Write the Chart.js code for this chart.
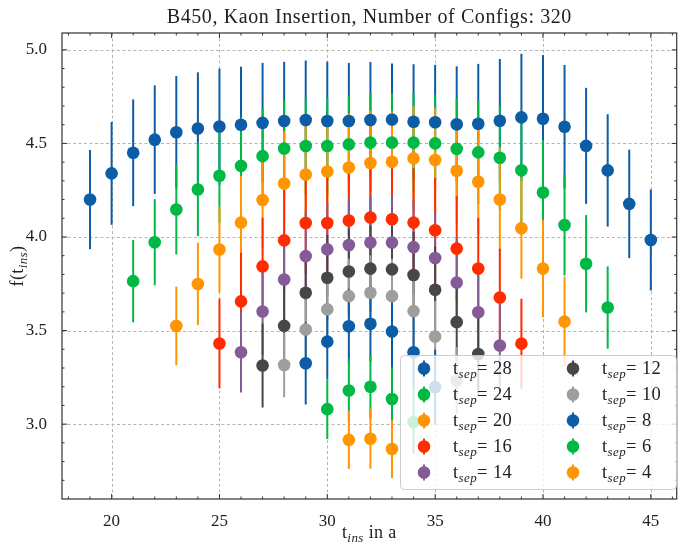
<!DOCTYPE html>
<html>
<head>
<meta charset="utf-8">
<script src="https://cdn.jsdelivr.net/npm/chart.js@4.4.1/dist/chart.umd.min.js"></script>
<style>
  html, body { margin: 0; padding: 0; background: #fff; }
  #wrap { width: 683px; height: 544px; }
</style>
</head>
<body>
<div id="wrap"><canvas id="chart" width="683" height="544"></canvas></div>
<script>
// t_sep of each series, first t_ins of each series
const tSep = [28, 24, 20, 16, 14, 12, 10, 8, 6, 4];
const tStart = [19, 21, 23, 25, 26, 27, 28, 29, 30, 31];
const colors = ['#0C5DA5', '#00B945', '#FF9500', '#FF2C00', '#845B97', '#474747', '#9e9e9e', '#0C5DA5', '#00B945', '#FF9500'];

// values
const f28 = [4.20, 4.34, 4.45, 4.52, 4.56, 4.58, 4.59, 4.60, 4.61, 4.62, 4.625, 4.62, 4.62, 4.625, 4.627, 4.616, 4.613, 4.602, 4.605, 4.621, 4.639, 4.632, 4.589, 4.487, 4.356, 4.177, 3.984];
const e28 = [0.265, 0.275, 0.285, 0.29, 0.30, 0.30, 0.31, 0.31, 0.32, 0.316, 0.318, 0.317, 0.31, 0.31, 0.30, 0.307, 0.307, 0.31, 0.32, 0.33, 0.34, 0.34, 0.33, 0.31, 0.30, 0.29, 0.27];
const f24 = [3.764, 3.972, 4.147, 4.254, 4.327, 4.38, 4.432, 4.473, 4.486, 4.486, 4.495, 4.504, 4.504, 4.504, 4.50, 4.471, 4.452, 4.423, 4.357, 4.238, 4.064, 3.857, 3.623];
const e24 = [0.22, 0.23, 0.24, 0.25, 0.25, 0.26, 0.26, 0.26, 0.26, 0.26, 0.26, 0.26, 0.26, 0.26, 0.26, 0.27, 0.275, 0.28, 0.28, 0.28, 0.27, 0.26, 0.22];
const f20 = [3.525, 3.749, 3.933, 4.077, 4.198, 4.286, 4.334, 4.35, 4.371, 4.395, 4.402, 4.42, 4.411, 4.354, 4.295, 4.20, 4.047, 3.831, 3.548];
const e20 = [0.21, 0.22, 0.23, 0.25, 0.26, 0.28, 0.29, 0.29, 0.29, 0.28, 0.27, 0.28, 0.28, 0.28, 0.28, 0.28, 0.27, 0.26, 0.24];
const f16 = [3.431, 3.656, 3.843, 3.982, 4.075, 4.075, 4.088, 4.104, 4.095, 4.077, 4.036, 3.938, 3.832, 3.677, 3.43];
const e16 = [0.24, 0.26, 0.26, 0.27, 0.27, 0.25, 0.27, 0.27, 0.28, 0.29, 0.28, 0.28, 0.27, 0.26, 0.24];
const f14 = [3.384, 3.602, 3.773, 3.898, 3.934, 3.957, 3.97, 3.97, 3.946, 3.888, 3.756, 3.598, 3.42];
const e14 = [0.215, 0.23, 0.24, 0.24, 0.25, 0.25, 0.25, 0.25, 0.25, 0.25, 0.24, 0.23, 0.22];
const f12 = [3.313, 3.525, 3.702, 3.782, 3.816, 3.831, 3.827, 3.797, 3.718, 3.545, 3.375];
const e12 = [0.224, 0.22, 0.23, 0.23, 0.23, 0.23, 0.23, 0.23, 0.23, 0.22, 0.22];
const f10 = [3.316, 3.506, 3.613, 3.684, 3.702, 3.684, 3.604, 3.468, 3.232];
const e10 = [0.173, 0.19, 0.2, 0.2, 0.2, 0.2, 0.2, 0.19, 0.18];
const f8 = [3.325, 3.441, 3.523, 3.536, 3.495, 3.384, 3.198];
const e8 = [0.22, 0.2, 0.2, 0.2, 0.2, 0.2, 0.2];
const f6 = [3.08, 3.18, 3.20, 3.134, 3.011];
const e6 = [0.16, 0.17, 0.17, 0.17, 0.17];
const f4 = [2.916, 2.922, 2.867];
const e4 = [0.155, 0.16, 0.155];

const xTicks = [20, 25, 30, 35, 40, 45];
const yTicks = [3.0, 3.5, 4.0, 4.5, 5.0];

const allVals = [f28, f24, f20, f16, f14, f12, f10, f8, f6, f4];
const allErrs = [e28, e24, e20, e16, e14, e12, e10, e8, e6, e4];

const SERIF = '"Liberation Serif", "DejaVu Serif", serif';
const INK = '#222';

const datasets = allVals.map((vals, k) => ({
    label: 't_sep= ' + tSep[k],
    data: vals.map((v, i) => ({ x: tStart[k] + i, y: v, err: allErrs[k][i] })),
    backgroundColor: colors[k],
    borderWidth: 0,
    pointRadius: 6.3,
    pointHoverRadius: 6.3,
    showLine: false,
    order: -k   // later series on top, like matplotlib
}));

// text with a subscript part, e.g. t_sep
function richWidth(ctx, parts, size, spacing) {
    let w = 0;
    for (const p of parts) {
        ctx.font = (p.sub ? 'italic ' + Math.round(size * 0.72) : size) + 'px ' + SERIF;
        ctx.letterSpacing = (spacing || 0) + 'px';
        w += ctx.measureText(p.t).width;
    }
    return w;
}
function drawRich(ctx, parts, x, y, size, spacing) {
    ctx.textBaseline = 'alphabetic';
    ctx.textAlign = 'left';
    for (const p of parts) {
        ctx.font = (p.sub ? 'italic ' + Math.round(size * 0.72) : size) + 'px ' + SERIF;
        ctx.letterSpacing = (spacing || 0) + 'px';
        ctx.fillText(p.t, x, p.sub ? y + size * 0.22 : y);
        x += ctx.measureText(p.t).width;
    }
    ctx.letterSpacing = '0px';
}

const errorBars = {
    id: 'errorBars',
    beforeDatasetsDraw(chart) {
        const ctx = chart.ctx;
        const xs = chart.scales.x, ys = chart.scales.y;
        const a = chart.chartArea;
        ctx.save();
        // dashed grid
        ctx.strokeStyle = '#b4b4b4';
        ctx.lineWidth = 1;
        ctx.setLineDash([3, 2.5]);
        for (const v of xTicks) {
            const px = Math.round(xs.getPixelForValue(v)) + 0.5;
            ctx.beginPath(); ctx.moveTo(px, a.top); ctx.lineTo(px, a.bottom); ctx.stroke();
        }
        for (const v of yTicks) {
            const py = Math.round(ys.getPixelForValue(v)) + 0.5;
            ctx.beginPath(); ctx.moveTo(a.left, py); ctx.lineTo(a.right, py); ctx.stroke();
        }
        ctx.setLineDash([]);
        // error bars, all series below the markers
        ctx.lineWidth = 2;
        chart.data.datasets.forEach((ds, k) => {
            ctx.strokeStyle = colors[k];
            ds.data.forEach(d => {
                const px = xs.getPixelForValue(d.x);
                ctx.beginPath();
                ctx.moveTo(px, ys.getPixelForValue(d.y - d.err));
                ctx.lineTo(px, ys.getPixelForValue(d.y + d.err));
                ctx.stroke();
            });
        });
        ctx.restore();
    },
    afterDraw(chart) {
        const ctx = chart.ctx;
        const xs = chart.scales.x, ys = chart.scales.y;
        const a = chart.chartArea;
        ctx.save();
        // spines and inward ticks
        ctx.strokeStyle = '#333';
        ctx.lineWidth = 1.2;
        ctx.strokeRect(a.left, a.top, a.right - a.left, a.bottom - a.top);
        ctx.lineWidth = 1;
        const tick = (x1, y1, x2, y2) => { ctx.beginPath(); ctx.moveTo(x1, y1); ctx.lineTo(x2, y2); ctx.stroke(); };
        for (let v = 18; v <= 46; v++) {
            const px = xs.getPixelForValue(v);
            const len = v % 5 === 0 ? 5 : 2.5;
            tick(px, a.bottom, px, a.bottom - len);
            tick(px, a.top, px, a.top + len);
        }
        for (let j = 27; j <= 50; j++) {
            const py = ys.getPixelForValue(j / 10);
            const len = j % 5 === 0 ? 5 : 2.5;
            tick(a.left, py, a.left + len, py);
            tick(a.right, py, a.right - len, py);
        }

        // legend
        const bx = 400, by = 355, bw = 276, bh = 134;
        ctx.fillStyle = 'rgba(255,255,255,0.8)';
        ctx.strokeStyle = 'rgba(200,200,200,0.9)';
        ctx.lineWidth = 1;
        ctx.beginPath();
        ctx.roundRect(bx + 0.5, by + 0.5, bw, bh, 4);
        ctx.fill();
        ctx.stroke();
        tSep.forEach((t, k) => {
            const col = k < 5 ? 0 : 1;
            const row = k % 5;
            const mx = col === 0 ? 424 : 573;
            const my = 368.5 + row * 26;
            ctx.strokeStyle = colors[k];
            ctx.lineWidth = 2;
            tick(mx, my - 8, mx, my + 8);
            ctx.fillStyle = colors[k];
            ctx.beginPath(); ctx.arc(mx, my, 6.3, 0, Math.PI * 2); ctx.fill();
            ctx.fillStyle = INK;
            drawRich(ctx, [{ t: 't' }, { t: 'sep', sub: true }, { t: '= ' + t }], mx + 29, my + 5, 18.5, 0.4);
        });

        // title and axis labels
        ctx.fillStyle = INK;
        const title = 'B450, Kaon Insertion, Number of Configs: 320';
        ctx.font = '20px ' + SERIF;
        ctx.letterSpacing = '0.6px';
        ctx.textAlign = 'center';
        ctx.textBaseline = 'alphabetic';
        ctx.fillText(title, (a.left + a.right) / 2, 23);
        ctx.letterSpacing = '0px';

        const xl = [{ t: 't' }, { t: 'ins', sub: true }, { t: ' in a' }];
        const xw = richWidth(ctx, xl, 18, 0.4);
        drawRich(ctx, xl, (a.left + a.right) / 2 - xw / 2, 538, 18, 0.4);

        const yl = [{ t: 'f(t' }, { t: 'ins', sub: true }, { t: ')' }];
        const yw = richWidth(ctx, yl, 18, 0.4);
        ctx.translate(23, (a.top + a.bottom) / 2);
        ctx.rotate(-Math.PI / 2);
        drawRich(ctx, yl, -yw / 2, 0, 18, 0.4);
        ctx.restore();
    }
};

new Chart(document.getElementById('chart'), {
    type: 'scatter',
    data: { datasets: datasets },
    options: {
        responsive: false,
        animation: false,
        events: [],
        layout: { padding: { top: 33, right: 2, left: 0, bottom: 0 } },
        plugins: {
            legend: { display: false },
            title: { display: false },
            tooltip: { enabled: false }
        },
        scales: {
            x: {
                type: 'linear',
                min: 17.7,
                max: 46.2,
                afterBuildTicks: s => { s.ticks = xTicks.map(v => ({ value: v })); },
                afterFit: s => { s.height = 45; },
                grid: { display: false },
                border: { display: false },
                ticks: {
                    color: INK,
                    font: { family: SERIF, size: 17 },
                    padding: 4,
                    maxRotation: 0,
                    callback: v => String(v)
                }
            },
            y: {
                type: 'linear',
                min: 2.6,
                max: 5.09,
                afterBuildTicks: s => { s.ticks = yTicks.map(v => ({ value: v })); },
                afterFit: s => { s.width = 62; },
                grid: { display: false },
                border: { display: false },
                ticks: {
                    color: INK,
                    font: { family: SERIF, size: 17 },
                    padding: 7,
                    callback: v => v.toFixed(1)
                }
            }
        }
    },
    plugins: [errorBars]
});
</script>
</body>
</html>
